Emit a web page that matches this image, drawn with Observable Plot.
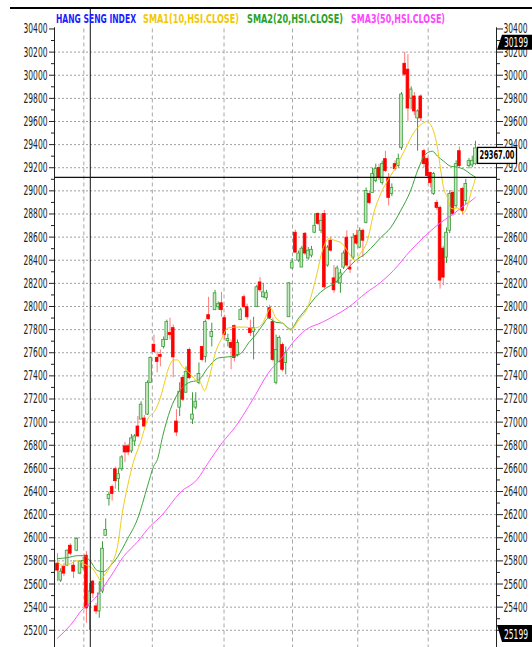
<!DOCTYPE html>
<html><head><meta charset="utf-8">
<script src="https://cdn.jsdelivr.net/npm/d3@7"></script>
<script src="https://cdn.jsdelivr.net/npm/@observablehq/plot@0.6"></script>
<style>
html,body{margin:0;padding:0;background:#fff;}
#chart{position:relative;width:532px;height:647px;overflow:hidden;}
</style></head><body><div id="chart"></div>
<script>
// ---- Candles (index 0..130), Hang Seng Index daily OHLC ----
const openV  = [25776,25630,25750,25759,25931,25759,25888,25690,25740,25845,
                25406,25621,25406,25363,25535,26017,26335,26438,26592,26507,
                26592,26790,26790,26747,26833,26962,27022,27031,27065,27340,
                27667,27555,27581,27650,27710,27770,27813,27005,27125,27383,
                27254,27624,27022,27125,27340,27650,27564,27925,27736,27968,
                27994,28028,27899,27700,27684,27830,27581,27882,28080,27994,
                27813,27779,27994,28208,28080,28071,27985,27865,27340,27521,
                27667,27512,27907,28329,28638,28397,28337,28629,28415,28440,
                28638,28801,28655,28801,28354,28569,28243,28208,28200,28337,
                28595,28337,28423,28612,28509,28655,28724,28973,28982,29085,
                29197,29068,29274,29111,28973,29231,29214,29369,30099,30048,
                29798,29816,29627,29816,29343,29274,29154,28973,28896,28853,
                28500,28423,28655,28982,28870,29343,29016,28913,29214,29220,
                29231];
const highV  = [25862,25733,25776,25895,25948,25802,26000,25802,25830,25880,
                25604,25630,25432,25621,25965,26163,26395,26455,26610,26600,
                26710,26824,26810,26893,26893,27048,27177,27057,27357,27564,
                27753,27607,27624,27736,27882,27899,27839,27108,27340,27400,
                27478,27641,27254,27254,27512,27650,27882,28080,27856,28140,
                28040,28122,27925,27760,27710,27840,27710,27985,28100,28020,
                27882,27907,28183,28251,28200,28140,28011,27899,27753,27745,
                27684,27650,28208,28415,28660,28480,28520,28640,28510,28520,
                28801,28810,28801,28830,28526,28600,28354,28350,28320,28480,
                28655,28400,28630,28660,28680,28670,29025,29000,29197,29231,
                29230,29257,29343,29150,29060,29260,29317,29850,30199,30177,
                29900,29850,29700,29830,29360,29290,29160,29160,28920,28870,
                28520,28680,29000,29000,29260,29380,29030,29100,29280,29300,
                29429];
const lowV   = [25621,25613,25664,25750,25845,25647,25880,25680,25720,25260,
                25199,25475,25338,25303,25518,26017,26274,26317,26421,26403,
                26575,26652,26710,26730,26790,26867,27022,26953,27057,27340,
                27598,27426,27478,27633,27710,27710,27383,26876,27048,27177,
                27254,27366,26979,27108,27323,27521,27512,27882,27650,27968,
                27968,27907,27710,27650,27452,27521,27564,27882,27985,27882,
                27740,27538,27994,28122,28071,28050,27890,27521,27323,27512,
                27435,27409,27907,28320,28458,28380,28337,28440,28400,28420,
                28630,28700,28630,28150,28340,28470,28114,28200,28114,28320,
                28340,28286,28400,28530,28500,28423,28715,28880,28982,29070,
                29090,29050,29160,28870,28950,29170,29200,29350,29990,29601,
                29700,29650,29343,29600,29200,29110,29025,28960,28830,28150,
                28180,28372,28630,28780,28850,29200,28790,28880,29190,29200,
                29220];
const closeV = [25716,25707,25690,25888,25862,25707,25991,25793,25800,25389,
                25535,25518,25363,25518,25905,26068,26369,26378,26489,26549,
                26695,26738,26738,26859,26876,26876,27151,26962,27340,27555,
                27607,27521,27564,27710,27865,27753,27560,26910,27263,27194,
                27435,27380,27065,27177,27417,27538,27865,27890,27779,28114,
                28020,27968,27753,27720,27641,27555,27684,27968,27994,27907,
                27770,27813,28166,28140,28122,28114,27899,27538,27624,27727,
                27452,27598,28200,28380,28466,28458,28500,28458,28483,28490,
                28698,28715,28741,28166,28509,28483,28140,28329,28286,28458,
                28354,28320,28595,28544,28655,28569,28999,28896,29145,29188,
                29111,29231,29171,28939,29025,29188,29274,29833,30005,29712,
                29876,29687,29687,29627,29231,29128,29068,29145,28853,28224,
                28250,28638,28973,28801,29231,29214,28827,29059,29257,29260,
                29367];

// ---- Moving averages (position in candle index, value) ----
const sma1Idx = [0,1.9,4,6.2,8.1,9.3,10.9,12.4,13.4,14.3,16.5,18.7,20.2,21.8,23.6,25.8,28,30.5,32,32.7,34.7,36.1,37.3,38.9,40.7,42.9,44.5,45.7,47,49.1,51.3,52.9,55.4,58.5,60.7,62.5,63.8,66.3,67.8,70,72.5,75,77.8,80.2,82.7,84.3,86.5,88.6,90.5,92.7,94.2,96.4,98.3,100.5,102.6,104.5,106.7,108.9,110.7,113.5,115.1,116,117,118.2,119.1,120.1,121.3,122.2,123.2,124.4,125.4,126.3,127.5,128.5,129.4,130];
const sma1Val = [25793,25759,25776,25802,25776,25759,25733,25673,25630,25664,25759,25931,26223,26446,26653,26824,27022,27108,27211,27280,27478,27538,27538,27478,27435,27366,27340,27271,27366,27598,27736,27813,27822,27822,27813,27822,27856,27985,27907,27856,27796,27882,27993,28225,28509,28586,28569,28543,28466,28397,28458,28569,28801,28973,29085,29171,29283,29403,29498,29583,29601,29575,29515,29369,29197,29025,28939,28853,28844,28853,28827,28810,28870,28973,29051,29110];
const sma2Idx = [0,3.1,6.2,8.1,10.3,12.4,14.3,16.5,18.7,21.8,24.9,28,29.9,31.1,32.7,35.1,37.6,40.7,43.9,47,50.1,52.9,55.4,57.5,59.4,61.6,63.8,65.6,67.8,70,72.5,75,77.8,80.2,83.4,86.5,89.6,92.7,95.8,97.4,100.5,103.6,106.7,109.8,112.3,114.5,116.6,118.2,120.1,122.2,124.4,126.3,128.5,130];
const sma2Val = [25819,25828,25845,25845,25793,25716,25707,25759,25836,25991,26163,26446,26618,26678,26876,27108,27254,27340,27366,27478,27555,27564,27572,27607,27684,27753,27839,27899,27864,27856,27804,27899,27993,28079,28157,28208,28311,28397,28458,28501,28595,28681,28827,28999,29197,29317,29343,29300,29257,29214,29205,29188,29145,29119];
const sma3Idx = [0,4,8.1,9.3,12.4,16.5,20.5,24.9,28.9,32,38.3,43.5,47,51.3,55.4,59.4,61.6,65.6,70,73.1,77.1,82.4,86.5,90.5,95.8,100.5,104.5,109.8,115.1,119.1,123.2,126.3,129.4,130];
const sma3Val = [25131,25243,25389,25415,25501,25664,25836,25965,26102,26180,26395,26506,26653,26824,26962,27134,27237,27426,27564,27684,27796,27864,27925,27993,28114,28208,28311,28483,28629,28724,28801,28870,28930,28945];

// ---- Axis / annotation values ----
const yTicks = d3.range(25200, 30401, 200);
const yMinorTicks = d3.range(25300, 30400, 200);
const monthLines = [8.2, 29.5, 51.8, 73.1, 93.4, 115.3];
const cursorIdx = 10.2;
const cursorPrice = 29116;
const highTag = 30199, lowTag = 25199, lastTag = 29367;
const legendItems = [
  {text: "HANG SENG INDEX", color: "#1c1cff"},
  {text: "SMA1(10,HSI.CLOSE)", color: "#f2c800"},
  {text: "SMA2(20,HSI.CLOSE)", color: "#2aa22a"},
  {text: "SMA3(50,HSI.CLOSE)", color: "#ff44ff"}
];

const FONT = "'Liberation Sans Narrow','DejaVu Sans Condensed','Liberation Sans',sans-serif";
const GREEN = "#3c9c3c", GREEN_FILL = "#c6e8be", RED = "#ff0000", RED_WICK = "#ff7878";

const candles = closeV.map((c, i) => ({i, o: openV[i], h: highV[i], l: lowV[i], c, up: c >= openV[i]}));
const toPts = (idx, val) => idx.map((x, k) => ({x, v: val[k]}));
const s1 = toPts(sma1Idx, sma1Val), s2 = toPts(sma2Idx, sma2Val), s3 = toPts(sma3Idx, sma3Val);

const xMin = -0.93, xMax = 136.55, yMin = 25051, yMax = 30577;

const plot = Plot.plot({
  width: 532, height: 647,
  marginTop: 8, marginBottom: 0, marginLeft: 54, marginRight: 36,
  style: {fontFamily: FONT, fontSize: "14px", color: "#222", background: "#fff", overflow: "visible"},
  x: {domain: [xMin, xMax], axis: null},
  y: {domain: [yMin, yMax], axis: null},
  marks: [
    Plot.ruleY(yTicks.filter(v => v < 30400), {x1: xMin, x2: xMax, stroke: "#a0a0a0", strokeDasharray: "2,2", strokeWidth: 1}),
    Plot.ruleX(monthLines, {y1: 30400, y2: yMin, stroke: "#a8a8a8", strokeDasharray: "4,3", strokeWidth: 1}),
    Plot.ruleX(candles, {x: "i", y1: "l", y2: "h", stroke: d => d.up ? GREEN : RED_WICK, strokeWidth: 1}),
    Plot.rect(candles, {x1: d => d.i - 0.42, x2: d => d.i + 0.42, y1: "o", y2: "c",
      fill: d => d.up ? GREEN_FILL : RED, stroke: d => d.up ? GREEN : RED, strokeWidth: 0.8}),
    Plot.line(s3, {x: "x", y: "v", stroke: "#ff55ff", strokeWidth: 1, curve: "monotone-x"}),
    Plot.line(s2, {x: "x", y: "v", stroke: "#3aa53a", strokeWidth: 1, curve: "monotone-x"}),
    Plot.line(s1, {x: "x", y: "v", stroke: "#f0cc18", strokeWidth: 1, curve: "monotone-x"}),
    Plot.ruleX([cursorIdx], {y1: yMax, y2: yMin, stroke: "#111", strokeWidth: 1}),
    Plot.ruleY([cursorPrice], {x1: xMin, x2: xMax, stroke: "#111", strokeWidth: 1.2}),
    Plot.ruleX([xMin, xMax], {y1: 30410, y2: yMin, stroke: "#222", strokeWidth: 1}),
    Plot.axisY(yTicks, {anchor: "left", tickSize: 5, tickPadding: 2, tickFormat: d => String(d), label: null, stroke: "#222"}),
    Plot.axisY(yMinorTicks, {anchor: "left", tickSize: 3, tickFormat: () => "", label: null, stroke: "#222"}),
    Plot.axisY(yTicks, {anchor: "right", tickSize: 6, tickPadding: 1, tickFormat: d => String(d), label: null, stroke: "#222"}),
    Plot.axisY(yMinorTicks, {anchor: "right", tickSize: 3, tickFormat: () => "", label: null, stroke: "#222"})
  ]
});

const svg = d3.select(plot);
svg.selectAll("text").each(function() {
  const t = d3.select(this);
  const s = t.text();
  if (/^\d{5}$/.test(s)) t.attr("textLength", 24).attr("lengthAdjust", "spacingAndGlyphs").attr("fill", "#222");
});

const ys = plot.scale("y");
const Y = v => ys.apply(v);

// top border
svg.append("line").attr("x1", 10).attr("x2", 532).attr("y1", Y(yMax)).attr("y2", Y(yMax))
  .attr("stroke", "#000").attr("stroke-width", 2);

// legend
const legendX = [56, 143, 247, 351], legendW = [80, 96, 96, 94];
legendItems.forEach((d, k) => {
  svg.append("text").attr("x", legendX[k]).attr("y", 23).attr("fill", d.color)
    .attr("text-anchor", "start").attr("font-weight", 600)
    .attr("font-family", FONT).attr("font-size", 12.5).attr("textLength", legendW[k])
    .attr("lengthAdjust", "spacingAndGlyphs").text(d.text);
});

// high / low tags
function tag(v, up) {
  const yv = Y(v);
  const t = up ? yv - 17 : yv - 5, b = up ? yv - 2 : yv + 12;
  const pts = up ? [[497, b], [502, t], [532, t], [532, b]] : [[497, t], [502, b], [532, b], [532, t]];
  svg.append("polygon").attr("points", pts.map(p => p.join(",")).join(" ")).attr("fill", "#000");
  svg.append("text").attr("x", 504).attr("y", b - 3).attr("fill", "#fff").attr("font-family", FONT)
    .attr("text-anchor", "start")
    .attr("font-size", 14).attr("textLength", 24).attr("lengthAdjust", "spacingAndGlyphs").text(String(v));
}
tag(highTag, true);
tag(lowTag, false);

// last value box
const yl = Y(lastTag);
svg.append("rect").attr("x", 477.5).attr("y", yl - 0.5).attr("width", 39).attr("height", 16)
  .attr("fill", "#fff").attr("stroke", "#000").attr("stroke-width", 1.3);
svg.append("text").attr("x", 497).attr("y", yl + 11.5).attr("text-anchor", "middle").attr("fill", "#000")
  .attr("font-family", FONT).attr("font-size", 11.5).attr("font-weight", "bold")
  .attr("textLength", 35).attr("lengthAdjust", "spacingAndGlyphs").text(lastTag.toFixed(2));

document.getElementById("chart").appendChild(plot);
</script></body></html>
